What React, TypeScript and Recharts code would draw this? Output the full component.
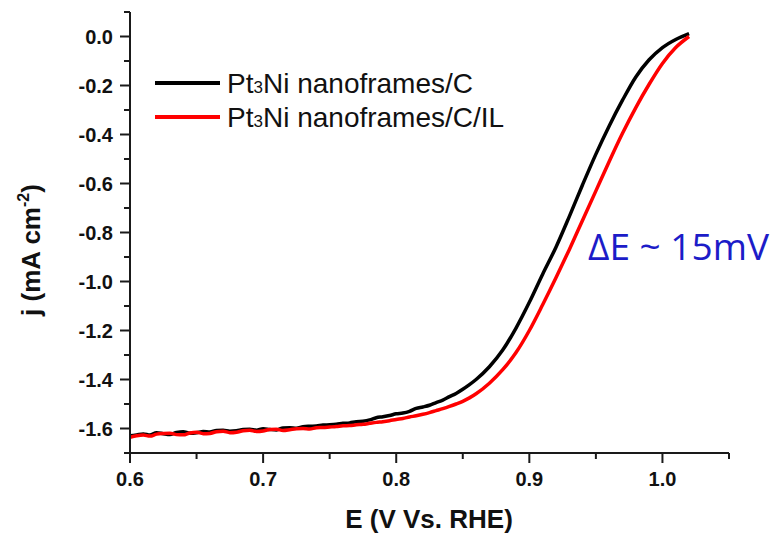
import React from 'react';
import { LineChart, Line, XAxis, YAxis } from 'recharts';

// potential sweep (V vs RHE) and current density (mA cm-2)
const E_C = [
  0.6, 0.605, 0.61, 0.615, 0.62, 0.625, 0.63, 0.635, 0.64, 0.645,
  0.65, 0.655, 0.66, 0.665, 0.67, 0.675, 0.68, 0.685, 0.69, 0.695,
  0.7, 0.705, 0.71, 0.715, 0.72, 0.725, 0.73, 0.735, 0.74, 0.745,
  0.75, 0.755, 0.76, 0.765, 0.77, 0.775, 0.78, 0.785, 0.79, 0.795,
  0.8, 0.805, 0.81, 0.815, 0.82, 0.825, 0.83, 0.835, 0.84, 0.845,
  0.85, 0.855, 0.86, 0.87, 0.88, 0.89, 0.9, 0.91, 0.92, 0.93,
  0.94, 0.95, 0.96, 0.97, 0.98, 0.99, 1.0, 1.01, 1.02,
];
const J_C = [
  -1.63, -1.626, -1.622, -1.627, -1.617, -1.621, -1.624, -1.616, -1.613, -1.619,
  -1.617, -1.612, -1.614, -1.608, -1.607, -1.611, -1.609, -1.604, -1.603, -1.607,
  -1.601, -1.604, -1.606, -1.598, -1.597, -1.599, -1.593, -1.591, -1.59, -1.586,
  -1.585, -1.583, -1.579, -1.577, -1.572, -1.57, -1.565, -1.556, -1.552, -1.547,
  -1.54, -1.537, -1.53, -1.518, -1.512, -1.505, -1.494, -1.484, -1.47, -1.457,
  -1.44, -1.421, -1.4, -1.348, -1.28, -1.19, -1.085, -0.97, -0.86, -0.735,
  -0.605, -0.48, -0.365, -0.26, -0.165, -0.095, -0.045, -0.012, 0.012,
];

const E_IL = [
  0.6, 0.605, 0.61, 0.615, 0.62, 0.625, 0.63, 0.635, 0.64, 0.645,
  0.65, 0.655, 0.66, 0.665, 0.67, 0.675, 0.68, 0.685, 0.69, 0.695,
  0.7, 0.705, 0.71, 0.715, 0.72, 0.725, 0.73, 0.735, 0.74, 0.745,
  0.75, 0.755, 0.76, 0.765, 0.77, 0.775, 0.78, 0.785, 0.79, 0.795,
  0.8, 0.805, 0.81, 0.815, 0.82, 0.825, 0.83, 0.835, 0.84, 0.845,
  0.85, 0.855, 0.86, 0.87, 0.88, 0.89, 0.9, 0.91, 0.92, 0.93,
  0.94, 0.95, 0.96, 0.97, 0.98, 0.99, 1.0, 1.01, 1.02,
];
const J_IL = [
  -1.636, -1.63, -1.627, -1.631, -1.623, -1.62, -1.619, -1.625, -1.626, -1.618,
  -1.615, -1.621, -1.62, -1.613, -1.611, -1.617, -1.615, -1.609, -1.607, -1.612,
  -1.61, -1.604, -1.603, -1.608, -1.605, -1.601, -1.6, -1.602, -1.597, -1.596,
  -1.594, -1.592, -1.589, -1.588, -1.585, -1.583, -1.579, -1.575, -1.572, -1.568,
  -1.563, -1.559, -1.553, -1.548, -1.542, -1.535, -1.527, -1.519, -1.51, -1.5,
  -1.489, -1.475, -1.458, -1.415, -1.36, -1.29, -1.2, -1.095, -0.985, -0.87,
  -0.75, -0.63, -0.51, -0.395, -0.29, -0.195, -0.11, -0.045, 0.0,
];

// major ticks carry a label, minor ticks only a short mark
const X_MAJOR = [0.6, 0.7, 0.8, 0.9, 1.0];
const X_MINOR = [0.65, 0.75, 0.85, 0.95, 1.05];
const Y_MAJOR = [0, -0.2, -0.4, -0.6, -0.8, -1.0, -1.2, -1.4, -1.6];
const Y_MINOR = [0.1, -0.1, -0.3, -0.5, -0.7, -0.9, -1.1, -1.3, -1.5, -1.7];

const dataC = E_C.map((e, i) => ({ E: e, j: J_C[i] }));
const dataIL = E_IL.map((e, i) => ({ E: e, j: J_IL[i] }));

const AXIS = '#1a1a1a';
const FONT = '"Liberation Sans", Arial, sans-serif';

const isMajor = (list: number[], v: number) => list.some(m => Math.abs(m - v) < 1e-6);

const XTick = (props: any) => {
  const { x, y, payload } = props;
  const major = isMajor(X_MAJOR, payload.value);
  return (
    <g>
      <line x1={x} x2={x} y1={y} y2={y + (major ? 10 : 6)} stroke={AXIS} strokeWidth={2} />
      {major && (
        <text x={x} y={y + 33} textAnchor="middle" fontFamily={FONT} fontSize={20} fontWeight={700} fill="#111">
          {payload.value.toFixed(1)}
        </text>
      )}
    </g>
  );
};

const YTick = (props: any) => {
  const { x, y, payload } = props;
  const major = isMajor(Y_MAJOR, payload.value);
  return (
    <g>
      <line x1={x - (major ? 10 : 6)} x2={x} y1={y} y2={y} stroke={AXIS} strokeWidth={2} />
      {major && (
        <text x={x - 17} y={y + 7} textAnchor="end" fontFamily={FONT} fontSize={20} fontWeight={700} fill="#111">
          {payload.value.toFixed(1)}
        </text>
      )}
    </g>
  );
};

export default function App() {
  return (
    <div style={{ position: 'absolute', left: 0, top: 0, width: 779, height: 535, background: '#fff' }}>
      <LineChart width={779} height={535} margin={{ top: 12, right: 50, bottom: 42, left: 60 }}>
        <XAxis
          dataKey="E"
          type="number"
          domain={[0.6, 1.05]}
          ticks={[...X_MAJOR, ...X_MINOR].sort((a, b) => a - b)}
          tick={<XTick />}
          tickLine={false}
          tickSize={0}
          tickMargin={0}
          interval={0}
          height={40}
          axisLine={{ stroke: AXIS, strokeWidth: 2 }}
          allowDataOverflow
        />
        <YAxis
          type="number"
          domain={[-1.7, 0.1]}
          ticks={[...Y_MAJOR, ...Y_MINOR].sort((a, b) => b - a)}
          tick={<YTick />}
          tickLine={false}
          tickSize={0}
          tickMargin={0}
          interval={0}
          width={70}
          axisLine={{ stroke: AXIS, strokeWidth: 2 }}
          allowDataOverflow
        />
        <Line
          data={dataC}
          dataKey="j"
          type="monotone"
          stroke="#000"
          strokeWidth={3.5}
          dot={false}
          isAnimationActive={false}
        />
        <Line
          data={dataIL}
          dataKey="j"
          type="monotone"
          stroke="#f00"
          strokeWidth={3.5}
          dot={false}
          isAnimationActive={false}
        />
      </LineChart>
      <svg
        width={779}
        height={535}
        style={{ position: 'absolute', left: 0, top: 0, pointerEvents: 'none' }}
      >
        {/* legend */}
        <line x1={155} x2={220} y1={83} y2={83} stroke="#000" strokeWidth={4} />
        <line x1={155} x2={220} y1={117} y2={117} stroke="#f00" strokeWidth={4} />
        <text x={227} y={93} fontFamily={FONT} fontSize={28} fill="#111">
          Pt<tspan fontSize={17}>3</tspan>Ni nanoframes/C
        </text>
        <text x={227} y={127} fontFamily={FONT} fontSize={28} fill="#111">
          Pt<tspan fontSize={17}>3</tspan>Ni nanoframes/C/IL
        </text>
        {/* annotation */}
        <text x={588} y={260} fontFamily='"Open Sans", sans-serif' fontSize={37} fill="#1c1cc8">
          ΔE ~ 15mV
        </text>
        {/* axis titles */}
        <text x={429} y={528} textAnchor="middle" fontFamily={FONT} fontSize={26} fontWeight={700} fill="#111">
          E (V Vs. RHE)
        </text>
        <text
          transform="translate(40 250) rotate(-90)"
          textAnchor="middle"
          fontFamily={FONT}
          fontSize={26}
          fontWeight={700}
          fill="#111"
        >
          j (mA cm<tspan fontSize={16} dy={-11}>-2</tspan>
          <tspan dy={11}>)</tspan>
        </text>
      </svg>
    </div>
  );
}
